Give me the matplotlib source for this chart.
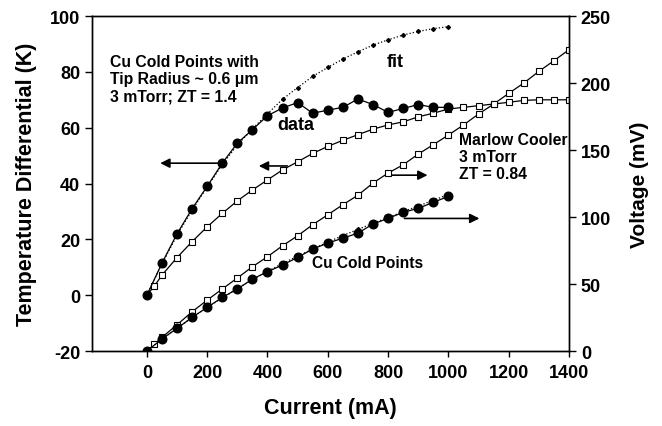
import matplotlib
matplotlib.use('Agg')
import matplotlib.pyplot as plt

plt.rcParams['font.family'] = 'Liberation Sans'
plt.rcParams['font.weight'] = 'bold'
plt.rcParams['axes.unicode_minus'] = False

# current (mA)
cu_current = [0, 50, 100, 150, 200, 250, 300, 350, 400, 450, 500,
              550, 600, 650, 700, 750, 800, 850, 900, 950, 1000]
# Cu cold points: temperature differential (K)
cu_dt = [0, 11.5, 22, 31, 39, 47.3, 54.5, 59.3, 64.3, 67.1, 69,
         65.2, 66.3, 67.3, 70.3, 68.3, 65.5, 66.9, 68.3, 67.3, 67.3]
# fit to Cu temperature differential (K)
cu_dt_fit = [0, 11.2, 21.5, 30.5, 38.8, 46.8, 53.8, 59.6, 65, 70.2, 74.4,
             78.4, 81.6, 84.6, 87.2, 89.6, 91.5, 93.2, 94.5, 95.5, 96.2]
# Cu cold points: voltage (mV)
cu_v = [0, 9, 16.9, 25.1, 32.6, 40, 46.3, 53.7, 59.2, 64.2, 69.9,
        76.1, 80.6, 84.2, 88, 94.8, 99, 103.5, 106.5, 111, 115.4]
cu_v_fit = [0, 8.8, 17, 25, 32.5, 39.6, 46.5, 53.2, 59.5, 65.3, 70.8,
            76.2, 81.3, 86.2, 90.8, 95.3, 99.7, 104, 108.2, 112.5, 116.8]

marlow_current = [0, 25, 50, 100, 150, 200, 250, 300, 350, 400, 450, 500,
                  550, 600, 650, 700, 750, 800, 850, 900, 950, 1000,
                  1050, 1100, 1150, 1200, 1250, 1300, 1350, 1400]
marlow_dt = [0, 3.3, 7.2, 13.5, 19.2, 24.5, 29.3, 33.8, 37.7, 41.3, 44.9, 47.8,
             50.8, 53.3, 55.5, 57.5, 59.5, 61, 62.1, 63.9, 65.2, 66.7,
             67.3, 67.9, 68.5, 69.1, 69.8, 70, 70, 70]
marlow_v = [0, 5, 10.2, 19.6, 29.3, 38, 46.3, 54.5, 62.9, 70.4, 78.6, 86,
            94.3, 101.7, 109.2, 116.3, 125.4, 132.8, 139, 147, 154, 161.2,
            168.7, 176.9, 184.3, 192.3, 200, 208.7, 216.7, 224.9]

fig = plt.figure(figsize=(6.62, 4.27), dpi=100)
ax = fig.add_axes([0.139, 0.1756, 0.7205, 0.7844])
ax2 = ax.twinx()

circ = dict(marker='o', markersize=6.2, color='black', markerfacecolor='black', linewidth=0.9)
sq = dict(marker='s', markersize=3.8, color='black', markerfacecolor='white',
          markeredgewidth=0.8, linewidth=0.9)
fitstyle = dict(linestyle=':', marker='D', markersize=2, color='black', linewidth=0.9)

ax.plot(cu_current, cu_dt_fit, **fitstyle)
ax.plot(marlow_current, marlow_dt, **sq)
ax.plot(cu_current, cu_dt, **circ)

ax2.plot(marlow_current, marlow_v, **sq)
ax2.plot(cu_current, cu_v_fit, **fitstyle)
ax2.plot(cu_current, cu_v, **circ)

ax.set_xlim(-182, 1400)
ax.set_ylim(-20, 100)
ax2.set_ylim(0, 250)
ax.set_xticks(range(0, 1401, 200))
ax.set_yticks(range(-20, 101, 20))
ax2.set_yticks(range(0, 251, 50))

for a in (ax, ax2):
    a.tick_params(labelsize=13, width=1, length=5, direction='out')
    for s in a.spines.values():
        s.set_linewidth(1)
ax.tick_params(axis='x', length=4, pad=5)

ax.set_xlabel('Current (mA)', fontsize=15.5, fontweight='bold', labelpad=12)
ax.set_ylabel('Temperature Differential (K)', fontsize=15.5, fontweight='bold', labelpad=9)
ax2.set_ylabel('Voltage (mV)', fontsize=15, fontweight='bold', labelpad=14)

# arrows pointing to the axis each curve belongs to
arrow = dict(arrowstyle='-|>', color='black', linewidth=1.2, mutation_scale=14)
ax.annotate('', xy=(35, 47.3), xytext=(250, 47.3), arrowprops=arrow)
ax.annotate('', xy=(362, 46.3), xytext=(475, 46.3), arrowprops=arrow)
ax.annotate('', xy=(940, 43), xytext=(800, 43), arrowprops=arrow)
ax.annotate('', xy=(1112, 27.5), xytext=(845, 27.5), arrowprops=arrow)

ax.text(-123, 86.5, 'Cu Cold Points with\nTip Radius ~ 0.6 \u03bcm\n3 mTorr; ZT = 1.4',
        fontsize=11.3, fontweight='bold', va='top', ha='left', linespacing=1.2)
ax.text(431, 61.3, 'data', fontsize=13, fontweight='bold', va='center', ha='left')
ax.text(796, 83.9, 'fit', fontsize=13, fontweight='bold', va='center', ha='left')
ax.text(1035, 58.3, 'Marlow Cooler\n3 mTorr\nZT = 0.84',
        fontsize=11.3, fontweight='bold', va='top', ha='left', linespacing=1.15)
ax.text(547, 11.8, 'Cu Cold Points', fontsize=11.2, fontweight='bold', va='center', ha='left')

fig.savefig('out.png', dpi=100)
